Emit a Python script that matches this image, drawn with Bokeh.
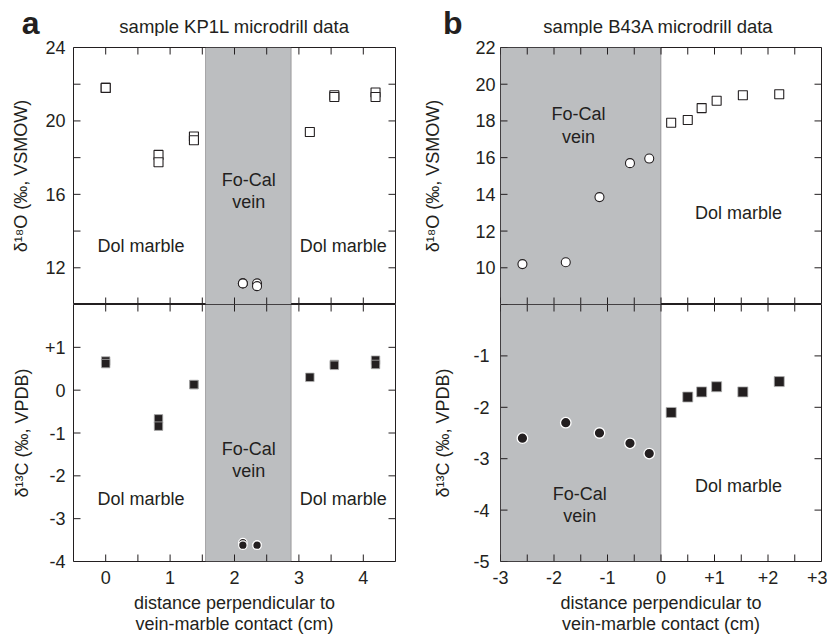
import math
from bokeh.plotting import figure
from bokeh.models import Range1d, LinearAxis, FixedTicker, BoxAnnotation, Label
from bokeh.layouts import row, column
from bokeh.embed import file_html
from bokeh.resources import INLINE

FONT = "Liberation Sans"
INK = "#231f20"
VEIN = "#bcbec0"
FS = "18px"

# ---------------- data: panel a (sample KP1L) ----------------
a_dol_x = [0, 0, 0.82, 0.82, 1.37, 1.37, 3.17, 3.55, 3.55, 4.19, 4.19]
a_dol_d18O = [21.8, 21.8, 18.15, 17.75, 19.15, 18.95, 19.4, 21.4, 21.3, 21.55, 21.3]
a_dol_d13C = [0.68, 0.62, -0.67, -0.84, 0.13, 0.13, 0.3, 0.6, 0.58, 0.7, 0.6]
a_vein_x = [2.13, 2.13, 2.35, 2.35]
a_vein_d18O = [11.15, 11.15, 11.15, 11.0]
a_vein_d13C = [-3.56, -3.62, -3.62, -3.62]
a_vein_zone = [1.55, 2.88]

# ---------------- data: panel b (sample B43A) ----------------
b_vein_x = [-2.59, -1.78, -1.15, -0.58, -0.22]
b_vein_d18O = [10.2, 10.3, 13.85, 15.7, 15.95]
b_vein_d13C = [-2.6, -2.3, -2.5, -2.7, -2.9]
b_dol_x = [0.19, 0.5, 0.76, 1.04, 1.53, 2.21]
b_dol_d18O = [17.9, 18.05, 18.7, 19.1, 19.4, 19.45]
b_dol_d13C = [-2.1, -1.8, -1.7, -1.6, -1.7, -1.5]
b_vein_zone = [-3, 0]

# ---------------- axes: ranges, tick marks, tick labels ----------------
a_x_range = [-0.5, 4.5]
a_x_marks = [-0.5, 0, 0.5, 1, 1.5, 2, 2.5, 3, 3.5, 4, 4.5]
a_x_labels = {0: "0", 1: "1", 2: "2", 3: "3", 4: "4"}
b_x_range = [-3, 3]
b_x_marks = [-3, -2.5, -2, -1.5, -1, -0.5, 0, 0.5, 1, 1.5, 2, 2.5, 3]
b_x_labels = {-3: "-3", -2: "-2", -1: "-1", 0: "0", 1: "+1", 2: "+2", 3: "+3"}

a_O_range = [10, 24]
a_O_marks = [10, 12, 14, 16, 18, 20, 22, 24]
a_O_labels = {12: "12", 16: "16", 20: "20", 24: "24"}
a_C_range = [-4, 2]
a_C_marks = [-4, -3, -2, -1, 0, 1, 2]
a_C_labels = {-4: "-4", -3: "-3", -2: "-2", -1: "-1", 0: "0", 1: "+1"}
b_O_range = [8, 22]
b_O_marks = [8, 10, 12, 14, 16, 18, 20, 22]
b_O_labels = {10: "10", 12: "12", 14: "14", 16: "16", 18: "18", 20: "20", 22: "22"}
b_C_range = [-5, 0]
b_C_marks = [-5, -4, -3, -2, -1, 0]
b_C_labels = {-5: "-5", -4: "-4", -3: "-3", -2: "-2", -1: "-1"}

O_LABEL = "\u03b4\u00b9\u2078O (\u2030, VSMOW)"
C_LABEL = "\u03b4\u00b9\u00b3C (\u2030, VPDB)"
X_LABEL = "distance perpendicular to\nvein-marble contact (cm)"
TICK = 7
HEAD_H = 36
TOP_B = 11
FRAME_H = 257
BOT_B = 75
LETTER_POS = 22


def no_grid(p):
    p.xgrid.visible = False
    p.ygrid.visible = False


def label_axis(labels, standoff, title=None, title_standoff=10, line_height=1.2,
               size=FS, style="normal"):
    ax = LinearAxis(ticker=FixedTicker(ticks=list(labels.keys())))
    ax.major_label_overrides = labels
    ax.major_tick_in = 0
    ax.major_tick_out = 0
    ax.minor_tick_in = 0
    ax.minor_tick_out = 0
    ax.axis_line_color = None
    ax.major_tick_line_color = None
    ax.minor_tick_line_color = None
    ax.major_label_text_font = FONT
    ax.major_label_text_font_size = size
    ax.major_label_text_font_style = style
    ax.major_label_text_color = INK
    ax.major_label_standoff = standoff
    if title:
        ax.axis_label = title
        ax.axis_label_text_font = FONT
        ax.axis_label_text_font_size = FS
        ax.axis_label_text_font_style = "normal"
        ax.axis_label_text_color = INK
        ax.axis_label_standoff = title_standoff
        ax.axis_label_text_line_height = line_height
    return ax


def make_fig(width, height, bl, br, bt, bb, xr, yr):
    p = figure(width=width, height=height, x_range=Range1d(*xr), y_range=Range1d(*yr),
               toolbar_location=None, output_backend="svg",
               x_axis_location=None, y_axis_location=None,
               min_border_left=bl, min_border_right=br,
               min_border_top=bt, min_border_bottom=bb)
    p.outline_line_color = INK
    p.outline_line_width = 1
    p.background_fill_color = "white"
    p.border_fill_color = "white"
    no_grid(p)
    return p


def tick_marks(p, xr, yr, xm, ym):
    kw = dict(length=TICK, length_units="screen", line_color=INK, line_width=1)
    p.ray(x=xm, y=[yr[0]] * len(xm), angle=math.pi / 2, **kw)
    p.ray(x=xm, y=[yr[1]] * len(xm), angle=-math.pi / 2, **kw)
    p.ray(x=[xr[0]] * len(ym), y=ym, angle=0, **kw)
    p.ray(x=[xr[1]] * len(ym), y=ym, angle=math.pi, **kw)


def header(width, bl, br, x0, letter, letter_standoff, title, title_x):
    # header x in page pixels, y = pixels above the header's bottom edge
    h = figure(width=width, height=HEAD_H,
               x_range=Range1d(x0 + bl, x0 + width - br), y_range=Range1d(0, HEAD_H),
               toolbar_location=None, output_backend="svg",
               x_axis_location=None, y_axis_location=None,
               min_border_left=bl, min_border_right=br, min_border_top=0, min_border_bottom=0)
    h.outline_line_color = None
    h.background_fill_color = "white"
    h.border_fill_color = "white"
    no_grid(h)
    # panel letter drawn as the single tick label of a bare left axis
    h.add_layout(label_axis({LETTER_POS: letter}, letter_standoff, size="32px", style="bold"),
                 "left")
    h.add_layout(Label(x=title_x, y=HEAD_H - 26, text=title, text_font=FONT,
                       text_font_size="18.5px", text_color=INK,
                       text_align="center", text_baseline="middle"))
    return h


def txt(p, x, y, s):
    p.add_layout(Label(x=x, y=y, text=s, text_font=FONT, text_font_size=FS,
                       text_color=INK, text_align="center", text_baseline="middle"))


def panel(width, bl, br, xr, xm, xl, zone, O_rng, O_m, O_l, C_rng, C_m, C_l,
          O_std, O_lstd, C_std, C_lstd):
    top = make_fig(width, TOP_B + FRAME_H, bl, br, TOP_B, 0, xr, O_rng)
    bot = make_fig(width, FRAME_H + BOT_B, bl, br, 0, BOT_B, xr, C_rng)
    for p in (top, bot):
        p.add_layout(BoxAnnotation(left=zone[0], right=zone[1], fill_color=VEIN, fill_alpha=1,
                                   line_color=INK, line_width=1, level="underlay"))
    tick_marks(top, xr, O_rng, xm, O_m)
    tick_marks(bot, xr, C_rng, xm, C_m)
    top.add_layout(label_axis(O_l, O_std, O_LABEL, O_lstd), "left")
    bot.add_layout(label_axis(C_l, C_std, C_LABEL, C_lstd), "left")
    bot.add_layout(label_axis(xl, 9, X_LABEL, 6, 1.05), "below")
    return top, bot


# ---------------- panel a ----------------
A_W, A_BL, A_BR = 420, 73, 25
a_head = header(A_W, A_BL, A_BR, 0, "a", 34, "sample KP1L microdrill data", 234)
a_top, a_bot = panel(A_W, A_BL, A_BR, a_x_range, a_x_marks, a_x_labels, a_vein_zone,
                     a_O_range, a_O_marks, a_O_labels, a_C_range, a_C_marks, a_C_labels,
                     8, 11, 8, 10)
a_top.scatter(a_dol_x, a_dol_d18O, marker="square", size=9, fill_color="white",
              line_color=INK, line_width=1.1)
a_top.scatter(a_vein_x, a_vein_d18O, marker="circle", size=9, fill_color="white",
              line_color=INK, line_width=1.1)
a_bot.scatter(a_dol_x, a_dol_d13C, marker="square", size=8.5, fill_color=INK,
              line_color="#b0b0b0", line_width=0.8)
a_bot.scatter(a_vein_x, a_vein_d13C, marker="circle", size=8.5, fill_color=INK,
              line_color="white", line_width=1.2)
txt(a_top, 0.55, 13.2, "Dol marble")
txt(a_top, 3.69, 13.2, "Dol marble")
txt(a_top, 2.22, 16.8, "Fo-Cal")
txt(a_top, 2.22, 15.6, "vein")
txt(a_bot, 0.55, -2.53, "Dol marble")
txt(a_bot, 3.69, -2.53, "Dol marble")
txt(a_bot, 2.22, -1.37, "Fo-Cal")
txt(a_bot, 2.22, -1.88, "vein")

# ---------------- panel b ----------------
B_W, B_BL, B_BR = 407, 78, 6
b_head = header(B_W, B_BL, B_BR, A_W, "b", 38, "sample B43A microdrill data", 657)
b_top, b_bot = panel(B_W, B_BL, B_BR, b_x_range, b_x_marks, b_x_labels, b_vein_zone,
                     b_O_range, b_O_marks, b_O_labels, b_C_range, b_C_marks, b_C_labels,
                     5, 29, 11, 17)
b_top.scatter(b_vein_x, b_vein_d18O, marker="circle", size=9, fill_color="white",
              line_color=INK, line_width=1.1)
b_top.scatter(b_dol_x, b_dol_d18O, marker="square", size=9, fill_color="white",
              line_color=INK, line_width=1.1)
b_bot.scatter(b_vein_x, b_vein_d13C, marker="circle", size=10.5, fill_color=INK,
              line_color="white", line_width=1.3)
b_bot.scatter(b_dol_x, b_dol_d13C, marker="square", size=10, fill_color=INK,
              line_color="#b0b0b0", line_width=0.8)
txt(b_top, -1.54, 18.4, "Fo-Cal")
txt(b_top, -1.54, 17.1, "vein")
txt(b_top, 1.45, 12.96, "Dol marble")
txt(b_bot, -1.52, -3.69, "Fo-Cal")
txt(b_bot, -1.52, -4.12, "vein")
txt(b_bot, 1.45, -3.54, "Dol marble")

layout = row(column(a_head, a_top, a_bot), column(b_head, b_top, b_bot))
open("out.html", "w").write(file_html(layout, INLINE))
